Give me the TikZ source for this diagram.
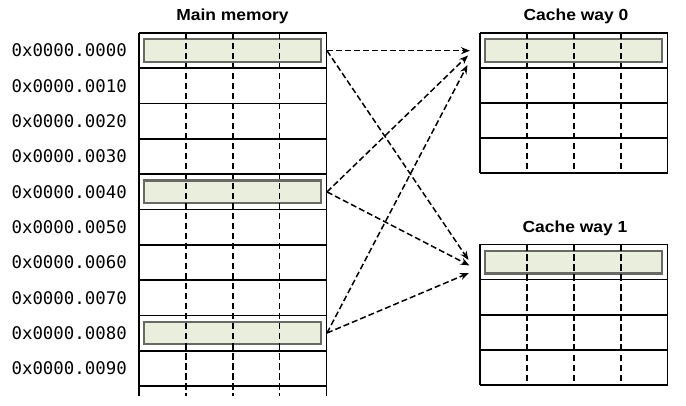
\documentclass[tikz,border=0pt]{standalone}
\usepackage{fontspec}
\usetikzlibrary{arrows.meta}
\newfontfamily\addrfont{DejaVu Sans Mono}
\newfontfamily\titlefont[FakeStretch=1.09]{Liberation Sans Bold}
\definecolor{hlfill}{RGB}{234,238,220}
\definecolor{hldraw}{RGB}{105,105,100}
\tikzset{
  grid/.style={line width=1.7pt, black},
  coldash/.style={line width=1.8pt, black, dash pattern=on 6.5pt off 3.5pt},
  hlbox/.style={draw=hldraw, fill=hlfill, line width=2.2pt, rectangle, inner sep=0pt, minimum height=22.5pt},
  addr/.style={anchor=base east, inner sep=0pt, font=\addrfont\fontsize{17.4}{20}\selectfont},
  title/.style={anchor=base, inner sep=0pt, font=\titlefont\fontsize{16}{19}\selectfont},
  link/.style={line width=1.5pt, dash pattern=on 6pt off 3pt, -{Stealth[length=9pt,width=7pt]}},
}
\begin{document}
\begin{tikzpicture}[x=1pt,y=-1pt]
\useasboundingbox (0,0) rectangle (686,406);
\def\rh{35.3}
% ---------- Main memory ----------
\node[title] (tm) at (232.5,21) {Main memory};
\foreach \k in {0,4,8}{
  \node[hlbox, minimum width=177pt] (m\k) at (232.6,{33+\k*\rh+\rh/2}) {};
}
\foreach \k in {0,...,10}{
  \draw[grid] (139,{33+\k*\rh}) -- (326.5,{33+\k*\rh});
}
\draw[grid] (139,33) -- (139,396);
\draw[grid] (326.5,33) -- (326.5,396);
\foreach \x in {185.8,232.6,279.4}{
  \draw[coldash] (\x,33) -- (\x,396);
}
\foreach \k in {0,...,9}{
  \node[addr] (a\k) at (127,{33+\k*\rh+\rh/2+6.3}) {0x0000.00\k0};
}
% ---------- Cache way 0 ----------
\node[title] (tc0) at (576,20.7) {Cache way 0};
\node[hlbox, minimum width=177.3pt] (c0) at (573.7,50.6) {};
\foreach \k in {0,...,4}{
  \draw[grid] (480,{32.7+\k*35.15}) -- (667.5,{32.7+\k*35.15});
}
\draw[grid] (480,32.7) -- (480,173.3);
\draw[grid] (667.5,32.7) -- (667.5,173.3);
\foreach \x in {527,574,621}{
  \draw[coldash] (\x,32.7) -- (\x,173.3);
}
% ---------- Cache way 1 ----------
\node[title] (tc1) at (575,232.3) {Cache way 1};
\node[hlbox, minimum width=177.3pt] (c1) at (573.7,262.3) {};
\foreach \k in {0,...,4}{
  \draw[grid] (480,{244.5+\k*35.15}) -- (667.5,{244.5+\k*35.15});
}
\draw[grid] (480,244.5) -- (480,385.1);
\draw[grid] (667.5,244.5) -- (667.5,385.1);
\foreach \x in {527,574,621}{
  \draw[coldash] (\x,244.5) -- (\x,385.1);
}
% ---------- connectors ----------
\coordinate (s0) at (327,50.7);
\coordinate (s4) at (327,191.9);
\coordinate (s8) at (327,333);
\coordinate (t00) at (470,50.7);
\coordinate (t04) at (468,55.5);
\coordinate (t08) at (467.5,65);
\coordinate (t10) at (468.5,260);
\coordinate (t14) at (469.5,265.5);
\coordinate (t18) at (469,273);
\draw[link] (s0) -- (t00);
\draw[link] (s4) -- (t04);
\draw[link] (s8) -- (t08);
\draw[link] (s0) -- (t10);
\draw[link] (s4) -- (t14);
\draw[link] (s8) -- (t18);
\end{tikzpicture}
\end{document}
